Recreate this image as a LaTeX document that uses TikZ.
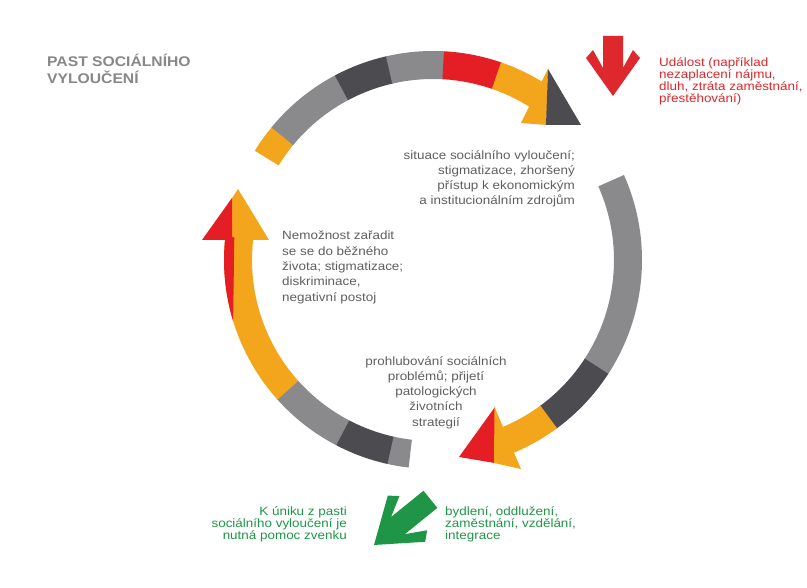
\documentclass[tikz,border=0pt]{standalone}
\usepackage{fontspec}
\setmainfont[FakeStretch=1.12]{Liberation Sans}
\usepackage{tikz}

\definecolor{ringyellow}{RGB}{243,166,27}
\definecolor{ringgray}{RGB}{138,138,140}
\definecolor{ringdark}{RGB}{76,76,80}
\definecolor{ringred}{RGB}{228,30,36}
\definecolor{textgray}{RGB}{95,95,95}
\definecolor{titlegray}{RGB}{135,135,135}
\definecolor{eventred}{RGB}{222,40,45}
\definecolor{helpgreen}{RGB}{30,150,70}

\begin{document}
\begin{tikzpicture}[x=1pt,y=1pt,
  bodytext/.style={inner sep=0pt, text=textgray, font=\fontsize{12}{15.3}\selectfont},
  smalltext/.style={inner sep=0pt, font=\fontsize{12}{12}\selectfont}]
  \path[use as bounding box, fill=white] (0,0) rectangle (807,588);
  \coordinate (c) at (433,328);

  % ring pieces: colour / from / to (degrees)
  \foreach \col/\a/\b in {ringyellow/148.5/140.4, ringgray/140.6/117.8, ringdark/118/102.8,
      ringgray/103/86.8, ringred/87/70.8, ringyellow/71/57.5,
      ringgray/24/-33.2, ringdark/-33/-53.8, ringyellow/-53.6/-67.5,
      ringgray/263.3/257.2, ringdark/257.4/242.2, ringgray/242.4/221.7, ringyellow/221.9/173.5}
    \fill[\col, shift={(c)}] (\a:209) arc[start angle=\a, end angle=\b, radius=209pt]
      -- (\b:181) arc[start angle=\b, end angle=\a, radius=181pt] -- cycle;

  % heads
  \fill[ringyellow] (548,519) -- (521,465) -- (546.5,463) -- cycle;
  \fill[ringdark] (548,519) -- (546,463) -- (581,463) -- cycle;
  \fill[ringred] (495,181) -- (459,131) -- (494.5,125) -- cycle;
  \fill[ringyellow] (494.5,181) -- (494,125) -- (521,119) -- cycle;
  \fill[ringyellow] (231.5,389) -- (238,399) -- (269,348) -- (231.5,348) -- cycle;
  \fill[ringred] (202,348) -- (232,390) -- (232,348) -- cycle;
  \fill[ringred, shift={(c)}] (173.5:209) arc[start angle=173.5, end angle=197, radius=209pt]
    -- (173.5:200) -- cycle;

  % block arrows
  \fill[eventred, shift={(613,492)}, rotate=-90]
    (0,0) -- (-38,27) -- (-46,20) -- (-28,10) -- (-60,10) -- (-60,-10)
    -- (-28,-10) -- (-46,-20) -- (-38,-27) -- cycle;
  \fill[helpgreen, shift={(374,43)}, rotate=219, scale=1.1]
    (0,0) -- (-38,27) -- (-46,20) -- (-28,10) -- (-66,10) -- (-66,-10)
    -- (-28,-10) -- (-46,-20) -- (-38,-27) -- cycle;

  % texts
  \node[inner sep=0pt, anchor=north west, align=left, text=titlegray,
    font=\bfseries\fontsize{14}{17}\selectfont] (title) at (47,534)
    {PAST SOCIÁLNÍHO\\VYLOUČENÍ};
  \node[smalltext, text=eventred, anchor=north west, align=left] (event) at (659,531)
    {Událost (například\\nezaplacení nájmu,\\dluh, ztráta zaměstnání,\\přestěhování)};
  \node[bodytext, anchor=north east, align=right] (situace) at (575,438)
    {situace sociálního vyloučení;\\stigmatizace, zhoršený\\přístup k ekonomickým\\a institucionálním zdrojům};
  \node[bodytext, anchor=north west, align=left] (nemoznost) at (282,357)
    {Nemožnost zařadit\\se se do běžného\\života; stigmatizace;\\diskriminace,\\negativní postoj};
  \node[bodytext, anchor=north, align=center] (prohlubovani) at (436,232)
    {prohlubování sociálních\\problémů; přijetí\\patologických\\životních\\strategií};
  \node[smalltext, text=helpgreen, anchor=north east, align=right] (unik) at (347,82)
    {K úniku z pasti\\sociálního vyloučení je\\nutná pomoc zvenku};
  \node[smalltext, text=helpgreen, anchor=north west, align=left] (pomoc) at (445,82)
    {bydlení, oddlužení,\\zaměstnání, vzdělání,\\integrace};
\end{tikzpicture}
\end{document}
